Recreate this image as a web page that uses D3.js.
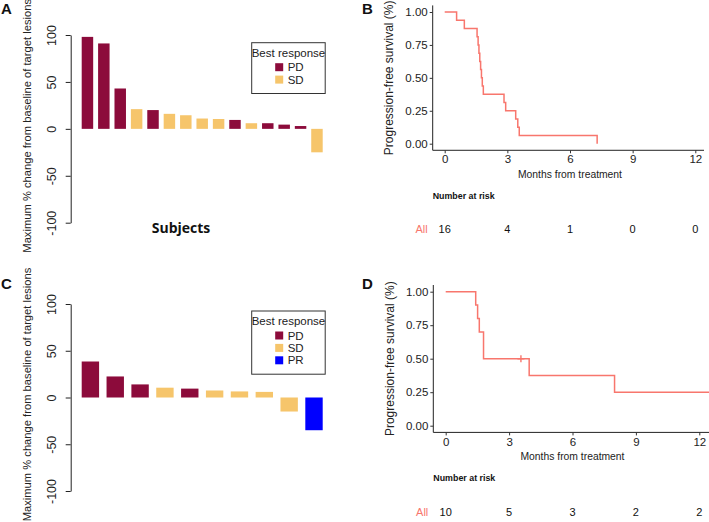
<!DOCTYPE html>
<html>
<head>
<meta charset="utf-8">
<script src="https://cdn.jsdelivr.net/npm/d3@7"></script>
<style>
  html, body { margin: 0; padding: 0; background: #fff; }
  svg { display: block; font-family: "Liberation Sans", Arial, sans-serif; }
</style>
</head>
<body>
<svg id="chart" width="709" height="522"></svg>
<script>
// ---------------- DATA ----------------
const subjectsA = ["S1","S2","S3","S4","S5","S6","S7","S8","S9","S10","S11","S12","S13","S14","S15"];
const valuesA   = [98, 91, 43, 21, 20, 16, 14.5, 11, 10.5, 9.5, 6, 6, 4.5, 3, -25];
const responseA = ["PD","PD","PD","SD","PD","SD","SD","SD","SD","PD","SD","PD","PD","PD","SD"];

const subjectsC = ["S1","S2","S3","S4","S5","S6","S7","S8","S9","S10"];
const valuesC   = [38.5, 22.5, 14, 10.5, 9.5, 7.5, 6.5, 6, -15, -35];
const responseC = ["PD","PD","PD","SD","PD","SD","SD","SD","SD","PR"];

const waterfallTicks = [100, 50, 0, -50, -100];
const legendKeysA = ["PD","SD"];
const legendKeysC = ["PD","SD","PR"];

// Kaplan-Meier step curves (time in months, survival probability)
const kmTimesB = [0, 0.57, 0.94, 1.55, 1.60, 1.64, 1.68, 1.72, 1.76, 1.80, 1.85, 2.84, 2.92, 3.40, 3.50, 3.57, 7.30];
const kmSurvB  = [1, 0.9375, 0.875, 0.8125, 0.75, 0.6875, 0.625, 0.5625, 0.5, 0.4375, 0.375, 0.3125, 0.25, 0.1875, 0.125, 0.0625, 0];
const censorTimesB = [];
const censorSurvB  = [];

const kmTimesD = [0, 1.42, 1.51, 1.59, 1.79, 3.95, 7.99, 12.46];
const kmSurvD  = [1, 0.9, 0.8, 0.7, 0.5, 0.375, 0.25, 0.25];
const censorTimesD = [3.56];
const censorSurvD  = [0.5];

const kmXTicks = [0, 3, 6, 9, 12];
const kmYTicks = [0, 0.25, 0.5, 0.75, 1];
const atRiskB = [16, 4, 1, 0, 0];
const atRiskD = [10, 5, 3, 2, 2];

// ---------------- STYLE ----------------
const colors = { PD: "#8c0b3b", SD: "#f6c56b", PR: "#0000ff" };
const kmColor = "#f8766d";
const svg = d3.select("#chart");

// ---------------- WATERFALL ----------------
function waterfall(cfg) {
  const g = svg.append("g");
  const x = d3.scaleBand().domain(cfg.subjects).range([81.7, 322.7]).paddingInner(0.3).paddingOuter(0);
  const y = d3.scaleLinear().domain([-100, 100]).range([cfg.yBottom, cfg.yTop]);

  g.selectAll("rect.bar").data(cfg.values).join("rect")
    .attr("class", "bar")
    .attr("x", (d, i) => x(cfg.subjects[i]))
    .attr("width", x.bandwidth())
    .attr("y", d => Math.min(y(d), y(0)))
    .attr("height", d => Math.abs(y(d) - y(0)))
    .attr("fill", (d, i) => colors[cfg.response[i]]);

  const axis = d3.axisLeft(y).tickValues(waterfallTicks).tickSize(5).tickSizeOuter(0).tickFormat(d => String(d));
  const ag = g.append("g").attr("transform", "translate(70.7,0)").call(axis);
  ag.select(".domain").attr("stroke", "#222");
  ag.selectAll(".tick line").attr("stroke", "#222");
  ag.selectAll(".tick text")
    .attr("transform", "rotate(-90)")
    .attr("x", 0).attr("y", -19).attr("dy", "0.36em")
    .attr("text-anchor", "middle")
    .attr("font-size", 12.5).attr("fill", "#222")
    .attr("font-family", "\"Liberation Sans\", Arial, sans-serif");

  g.append("text")
    .attr("transform", `translate(27,${y(0) - 3}) rotate(-90)`)
    .attr("text-anchor", "middle").attr("dy", "0.35em")
    .attr("font-size", 11.2).attr("fill", "#222")
    .text("Maximum % change from baseline of target lesions");

  // legend
  const keys = cfg.legendKeys;
  const lx = 251.7, lw = 73.5;
  const lh = 26 + keys.length * 12.4;
  const lg = g.append("g").attr("transform", `translate(${lx},${cfg.legendTop})`);
  lg.append("rect").attr("width", lw).attr("height", lh)
    .attr("fill", "#fff").attr("stroke", "#333").attr("stroke-width", 1);
  lg.append("text").attr("x", lw / 2).attr("y", 10).attr("dy", "0.35em")
    .attr("text-anchor", "middle").attr("font-size", 11.5).attr("fill", "#222").text("Best response");
  keys.forEach((k, i) => {
    const cy = 24.5 + i * 12.4;
    lg.append("rect").attr("x", 23.5).attr("y", cy - 4).attr("width", 8).attr("height", 8).attr("fill", colors[k]);
    lg.append("text").attr("x", 36).attr("y", cy).attr("dy", "0.36em")
      .attr("font-size", 11.5).attr("fill", "#222").text(k);
  });

  if (cfg.xTitle) {
    g.append("text").attr("x", 181).attr("y", 228).attr("dy", "0.35em")
      .attr("text-anchor", "middle").attr("font-size", 14).attr("font-weight", 700)
      .attr("font-family", "\"Open Sans\", Lato, sans-serif").attr("fill", "#111")
      .text(cfg.xTitle);
  }
  g.append("text").attr("x", cfg.labelX).attr("y", cfg.labelY)
    .attr("font-size", 15).attr("font-weight", 700).attr("fill", "#111").text(cfg.label);
}

waterfall({ subjects: subjectsA, values: valuesA, response: responseA, yTop: 35, yBottom: 222.7,
            legendKeys: legendKeysA, legendTop: 42.7, xTitle: "Subjects", label: "A", labelX: 1, labelY: 14 });
waterfall({ subjects: subjectsC, values: valuesC, response: responseC, yTop: 304, yBottom: 491,
            legendKeys: legendKeysC, legendTop: 311, xTitle: null, label: "C", labelX: 1, labelY: 289 });

// ---------------- KAPLAN-MEIER ----------------
function km(cfg) {
  const g = svg.append("g");
  const x = d3.scaleLinear().domain([0, 12]).range([cfg.x0, cfg.x12]);
  const y = d3.scaleLinear().domain([0, 1]).range([cfg.y0, cfg.y1]);
  const yMin = -0.05, yMax = 1.05;

  // axes
  const xAxis = d3.axisBottom(x).tickValues(kmXTicks).tickSize(3).tickSizeOuter(0).tickFormat(d => String(d));
  const xg = g.append("g").attr("transform", `translate(0,${y(yMin)})`).call(xAxis);
  xg.select(".domain").attr("d", `M${cfg.axisLeft},0H${cfg.axisRight}`).attr("stroke", "#222");
  xg.selectAll(".tick line").attr("stroke", "#333");
  xg.selectAll(".tick text").attr("font-size", 11.5).attr("fill", "#222").attr("y", 5)
    .attr("font-family", "\"Liberation Sans\", Arial, sans-serif");

  const yAxis = d3.axisLeft(y).tickValues(kmYTicks).tickSize(3).tickSizeOuter(0).tickFormat(d3.format(".2f"));
  const yg = g.append("g").attr("transform", `translate(${cfg.axisLeft},0)`).call(yAxis);
  yg.select(".domain").attr("d", `M0,${y(yMax)}V${y(yMin)}`).attr("stroke", "#222");
  yg.selectAll(".tick line").attr("stroke", "#333");
  yg.selectAll(".tick text").attr("font-size", 11.5).attr("fill", "#222").attr("x", -5)
    .attr("font-family", "\"Liberation Sans\", Arial, sans-serif");

  // titles
  g.append("text")
    .attr("transform", `translate(${cfg.axisLeft - 43.5},${(y(yMax) + y(yMin)) / 2}) rotate(-90)`)
    .attr("text-anchor", "middle").attr("dy", "0.35em").attr("font-size", 12).attr("fill", "#222")
    .text("Progression-free survival (%)");
  g.append("text").attr("x", x(6)).attr("y", y(yMin) + 24).attr("dy", "0.35em")
    .attr("text-anchor", "middle").attr("font-size", 11.5).attr("fill", "#222")
    .attr("textLength", 104).attr("lengthAdjust", "spacingAndGlyphs")
    .text("Months from treatment");

  // curve
  const pts = cfg.times.map((t, i) => [t, cfg.surv[i]]);
  const line = d3.line().x(d => x(d[0])).y(d => y(d[1])).curve(d3.curveStepAfter);
  g.append("path").attr("d", line(pts)).attr("fill", "none")
    .attr("stroke", kmColor).attr("stroke-width", 1.5);
  cfg.censorTimes.forEach((t, i) => {
    const cx = x(t), cy = y(cfg.censorSurv[i]);
    g.append("path").attr("d", `M${cx - 3.5},${cy}H${cx + 3.5}M${cx},${cy - 3.5}V${cy + 3.5}`)
      .attr("stroke", kmColor).attr("stroke-width", 1.4);
  });

  // number at risk
  g.append("text").attr("x", cfg.axisLeft).attr("y", cfg.riskTitleY).attr("dy", "0.35em")
    .attr("font-size", 9.5).attr("font-weight", 700).attr("fill", "#111")
    .attr("textLength", 62).attr("lengthAdjust", "spacingAndGlyphs")
    .text("Number at risk");
  g.append("text").attr("x", cfg.axisLeft - 5).attr("y", cfg.riskRowY).attr("dy", "0.35em")
    .attr("text-anchor", "end").attr("font-size", 11).attr("fill", kmColor).text("All");
  g.selectAll("text.risk").data(cfg.atRisk).join("text").attr("class", "risk")
    .attr("x", (d, i) => x(kmXTicks[i])).attr("y", cfg.riskRowY).attr("dy", "0.35em")
    .attr("text-anchor", "middle").attr("font-size", 11).attr("fill", "#111").text(d => d);

  g.append("text").attr("x", cfg.labelX).attr("y", cfg.labelY)
    .attr("font-size", 15).attr("font-weight", 700).attr("fill", "#111").text(cfg.label);
}

km({ x0: 444.7, x12: 695.3, y0: 143.7, y1: 12, axisLeft: 432.7, axisRight: 704,
     times: kmTimesB, surv: kmSurvB, censorTimes: censorTimesB, censorSurv: censorSurvB,
     atRisk: atRiskB, riskTitleY: 195.7, riskRowY: 229.3, label: "B", labelX: 362, labelY: 14 });
km({ x0: 445.7, x12: 699.3, y0: 425.7, y1: 291.7, axisLeft: 433.3, axisRight: 709,
     times: kmTimesD, surv: kmSurvD, censorTimes: censorTimesD, censorSurv: censorSurvD,
     atRisk: atRiskD, riskTitleY: 477.3, riskRowY: 512.3, label: "D", labelX: 362, labelY: 289 });
</script>
</body>
</html>
